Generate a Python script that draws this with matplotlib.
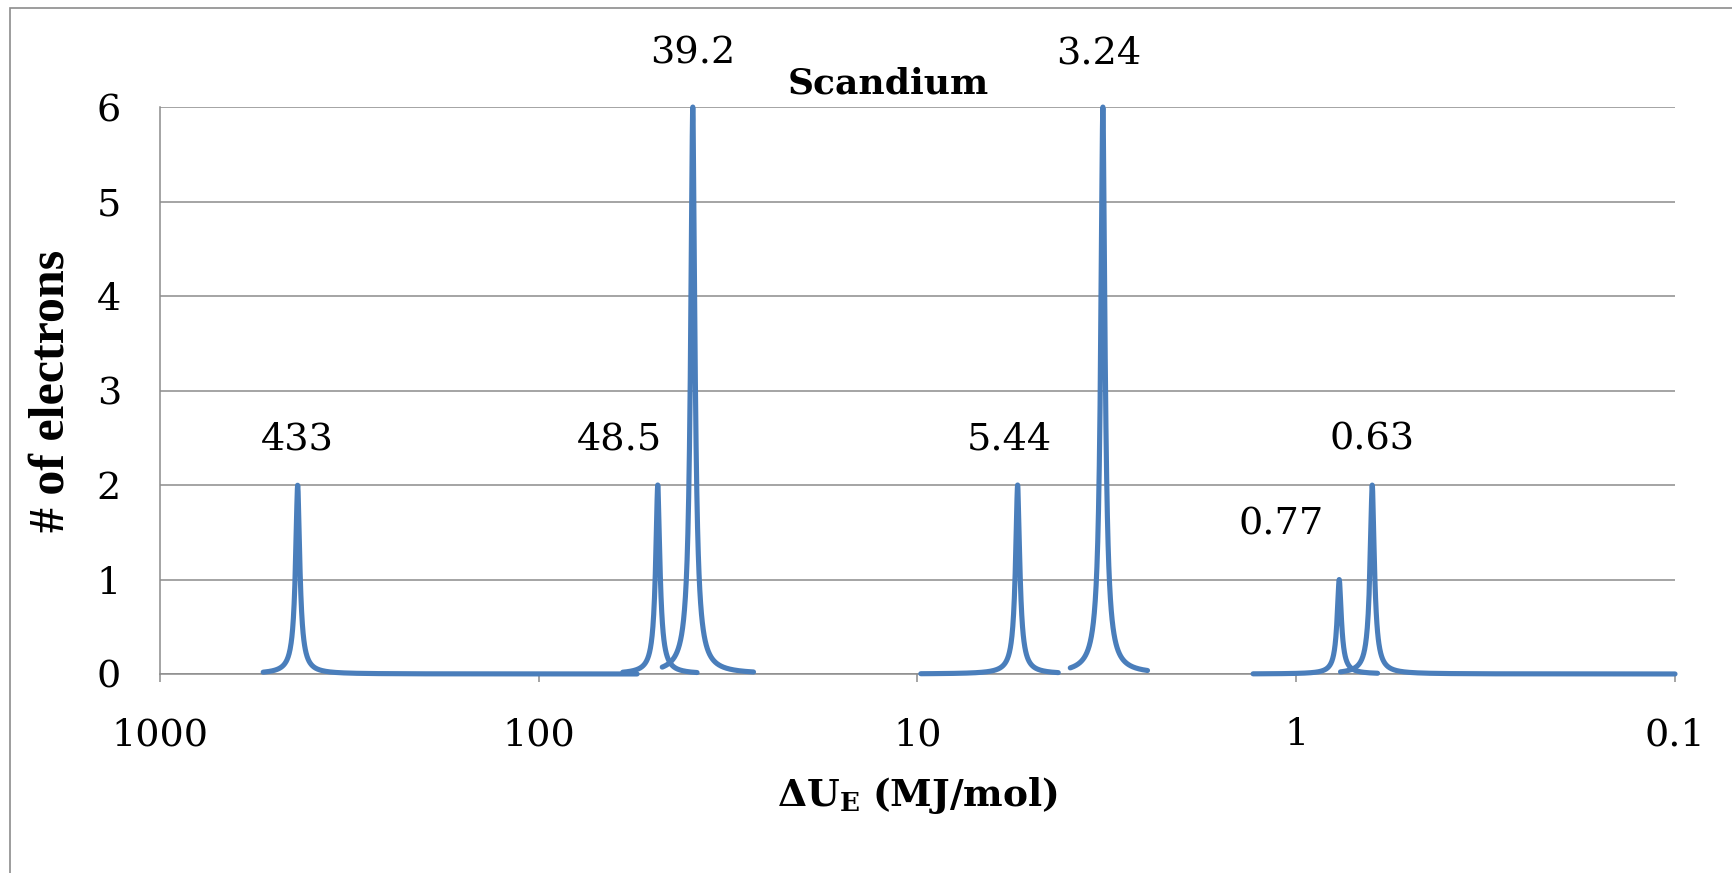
import numpy as np
import matplotlib
matplotlib.use("Agg")
import matplotlib.pyplot as plt
from matplotlib.patches import Rectangle

# Scandium photoelectron spectrum: peak energies (MJ/mol) and electron counts
energies = [433, 48.5, 39.2, 5.44, 3.24, 0.77, 0.63]
electrons = [2, 2, 6, 2, 6, 1, 2]
peak_labels = ["433", "48.5", "39.2", "5.44", "3.24", "0.77", "0.63"]
# energy range covered by each plotted series (low, high)
range_lo = [55, 38.2, 27.1, 4.25, 2.47, 0.61, 0.1]
range_hi = [534, 60, 47.2, 9.8, 3.95, 1.30, 0.764]

x_ticks = [1000, 100, 10, 1, 0.1]
x_tick_labels = ["1000", "100", "10", "1", "0.1"]
y_ticks = [0, 1, 2, 3, 4, 5, 6]

plt.rcParams["mathtext.fontset"] = "custom"
plt.rcParams["mathtext.rm"] = "DejaVu Serif"
plt.rcParams["mathtext.bf"] = "DejaVu Serif:bold"

W, H, DPI = 1733, 873, 100
fig = plt.figure(figsize=(W / DPI, H / DPI), dpi=DPI)
ax = fig.add_axes([160 / W, 1 - 674 / H, 1515 / W, 567 / H])

blue = "#4a7ebb"
grid = "#8c8c8c"
gamma = 0.007  # half width of each peak, in decades

for e0, h, lo, hi in zip(energies, electrons, range_lo, range_hi):
    e = np.logspace(np.log10(lo), np.log10(hi), 1500)
    u = (np.log10(e) - np.log10(e0)) / gamma
    ax.plot(e, h / (1 + np.abs(u) ** 1.8), color=blue, lw=3.7,
            solid_capstyle="round", zorder=3, clip_on=False)

# label offsets (pixels) from the top of each peak
offsets = [(0, 45), (-38, 45), (0, 53), (-8, 45), (-4, 53), (-58, 55), (0, 45)]
for e0, h, lab, off in zip(energies, electrons, peak_labels, offsets):
    ax.annotate(lab, (e0, h), xytext=off, textcoords="offset pixels",
                ha="center", va="center", fontsize=27.5, family="DejaVu Serif")

ax.set_xscale("log")
ax.set_xlim(1000, 0.1)
ax.set_ylim(0, 6)
ax.set_xticks(x_ticks)
ax.set_xticklabels(x_tick_labels)
ax.minorticks_off()
ax.set_yticks(y_ticks)
ax.yaxis.grid(True, color=grid, lw=1.1)
ax.set_axisbelow(True)
for s in ["top", "right"]:
    ax.spines[s].set_visible(False)
for s in ["left", "bottom"]:
    ax.spines[s].set_color(grid)
    ax.spines[s].set_linewidth(1.1)
ax.tick_params(axis="x", length=6, color=grid, width=1.1, pad=25)
ax.tick_params(axis="y", length=0, pad=28)
for t in ax.get_xticklabels() + ax.get_yticklabels():
    t.set_fontsize(27.5)
    t.set_family("DejaVu Serif")

ax.set_xlabel(r"$\mathbf{\Delta U_E}$ $\mathbf{(MJ/mol)}$", fontsize=27, labelpad=16)
ax.set_ylabel("# of electrons", fontsize=36, fontweight="bold",
              family="Liberation Serif", labelpad=16)

fig.text(888 / W, 1 - 83 / H, "Scandium", ha="center", va="center",
         fontsize=26, fontweight="bold", family="DejaVu Serif")

# outer chart border
fig.add_artist(Rectangle((10 / W, -0.5), 2, 1.5 - 8 / H, transform=fig.transFigure,
                         fill=False, edgecolor="#8c8c8c", lw=1.2))

fig.savefig("out.png", dpi=DPI)
